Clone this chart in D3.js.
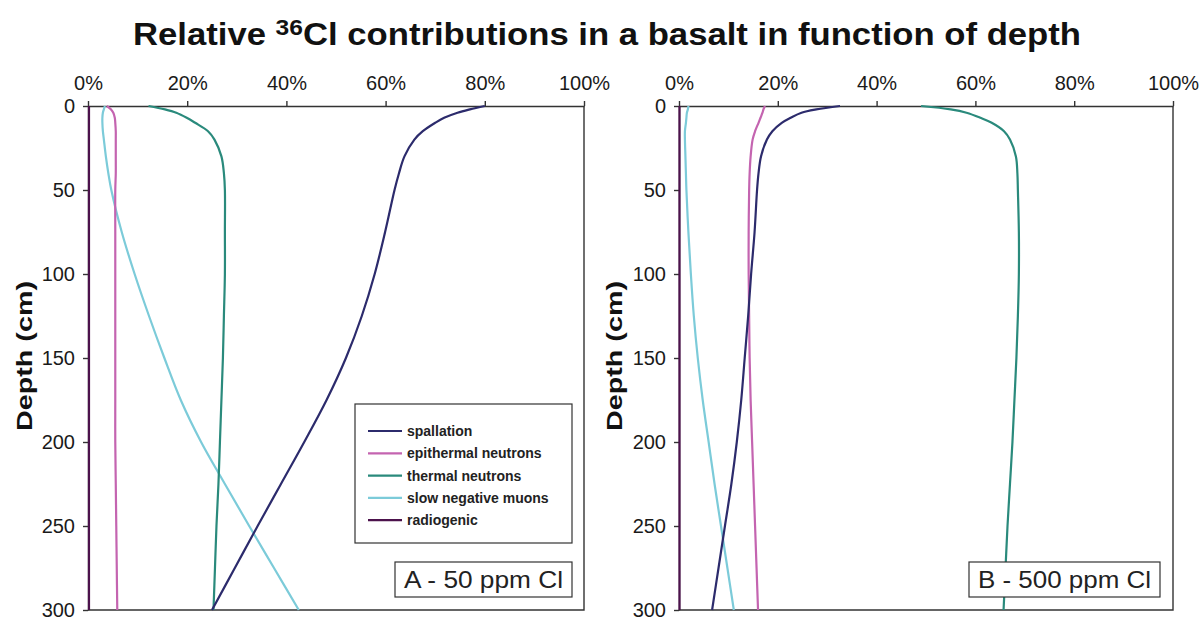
<!DOCTYPE html>
<html>
<head>
<meta charset="utf-8">
<script src="https://d3js.org/d3.v7.min.js"></script>
<style>
  body { margin: 0; background: #fff; }
  svg text { font-family: "Liberation Sans", Arial, sans-serif; }
</style>
</head>
<body>
<svg id="chart" width="1200" height="617"></svg>
<script>
// depth grid (cm), shared by every curve
var depths = [0, 2, 4, 7, 10, 15, 20, 30, 40, 50, 75, 100, 125, 150, 175, 200, 225, 250, 275, 300];

// panel A - 50 ppm Cl (percent of total 36Cl)
var spallationA = [80, 77, 74.5, 71.8, 70, 67.5, 65.8, 63.8, 62.7, 61.8, 59.9, 57.8, 55.2, 52.0, 48.1, 43.6, 38.9, 34.2, 29.6, 25.0];
var epithermalA = [3.8, 4.6, 5.1, 5.4, 5.5, 5.6, 5.6, 5.6, 5.6, 5.5, 5.5, 5.5, 5.5, 5.5, 5.5, 5.5, 5.6, 5.7, 5.8, 5.9];
var thermalA    = [12.2, 15.5, 17.8, 19.9, 21.6, 24.2, 25.5, 26.9, 27.4, 27.6, 27.6, 27.6, 27.4, 27.2, 26.9, 26.6, 26.3, 25.9, 25.6, 25.3];
var muonsA      = [3.4, 3.2, 3.0, 2.9, 2.9, 3.0, 3.2, 3.6, 4.1, 4.7, 6.8, 9.4, 12.3, 15.4, 18.7, 22.8, 27.6, 32.5, 37.5, 42.5];
var radiogenicA = [0.2, 0.2, 0.2, 0.2, 0.2, 0.2, 0.2, 0.2, 0.2, 0.2, 0.2, 0.2, 0.2, 0.2, 0.2, 0.2, 0.2, 0.2, 0.2, 0.2];

// panel B - 500 ppm Cl
var spallationB = [32.6, 27.8, 24.8, 22.6, 20.8, 18.9, 17.8, 16.6, 16.1, 15.8, 15.3, 14.6, 14.0, 13.3, 12.6, 11.7, 10.6, 9.3, 8.0, 6.7];
var epithermalB = [17.4, 17.1, 16.9, 16.5, 16.1, 15.4, 14.9, 14.5, 14.3, 14.2, 14.1, 14.1, 14.2, 14.3, 14.5, 14.8, 15.1, 15.4, 15.7, 16.0];
var thermalB    = [49, 55, 58.2, 61, 63.3, 65.8, 67, 68.2, 68.5, 68.6, 68.8, 68.8, 68.6, 68.3, 67.9, 67.5, 67, 66.5, 66.1, 65.7];
var muonsB      = [1.9, 1.8, 1.6, 1.5, 1.4, 1.2, 1.2, 1.3, 1.4, 1.5, 1.9, 2.4, 3.0, 3.8, 4.8, 6.0, 7.2, 8.5, 9.8, 11.1];
var radiogenicB = [0.1, 0.1, 0.1, 0.1, 0.1, 0.1, 0.1, 0.1, 0.1, 0.1, 0.1, 0.1, 0.1, 0.1, 0.1, 0.1, 0.1, 0.1, 0.1, 0.1];

var seriesNames = ["spallation", "epithermal neutrons", "thermal neutrons", "slow negative muons", "radiogenic"];
var seriesColors = ["#2c2b6c", "#c464b0", "#2a8a7c", "#7ccbd9", "#4c124c"];
var xTicks = [0, 0.2, 0.4, 0.6, 0.8, 1];
var yTicks = [0, 50, 100, 150, 200, 250, 300];
var panelLabels = ["A - 50 ppm Cl", "B - 500 ppm Cl"];

var svg = d3.select("#chart");

// title
var title = svg.append("text").attr("x", 607).attr("y", 45).attr("text-anchor", "middle")
  .style("font-size", "31px").style("font-weight", "bold").attr("fill", "#111")
  .attr("textLength", 948).attr("lengthAdjust", "spacingAndGlyphs");
title.append("tspan").text("Relative ");
title.append("tspan").text("36").style("font-size", "22px").attr("dy", -10);
title.append("tspan").text("Cl contributions in a basalt in function of depth").attr("dy", 10);

function drawPanel(left, right, data, label, withLegend, titleX, labelBox){
  var top = 106, bottom = 610;
  var x = d3.scaleLinear().domain([0, 1]).range([left, right]);
  var y = d3.scaleLinear().domain([0, 300]).range([top, bottom]);
  var g = svg.append("g");

  // frame (right and bottom sides)
  g.append("path").attr("d", "M" + right + "," + top + "V" + bottom + "H" + left)
    .attr("fill", "none").attr("stroke", "#333").attr("stroke-width", 1.4);

  var xAxis = g.append("g").attr("transform", "translate(0," + top + ")")
    .call(d3.axisTop(x).tickValues(xTicks).tickFormat(d3.format(".0%")).tickSizeInner(5).tickSizeOuter(0).tickPadding(11));
  var yAxis = g.append("g").attr("transform", "translate(" + left + ",0)")
    .call(d3.axisLeft(y).tickValues(yTicks).tickSizeInner(5).tickSizeOuter(0).tickPadding(8));
  [xAxis, yAxis].forEach(function(a){
    a.selectAll("path, line").attr("stroke", "#333").attr("stroke-width", 1.4);
    a.selectAll("text").style("font-size", "20px").attr("fill", "#1a1a1a").style("font-family", "'Liberation Sans', Arial, sans-serif");
  });

  g.append("text").attr("transform", "translate(" + titleX + ",356) rotate(-90)")
    .attr("text-anchor", "middle").attr("dy", "0.35em")
    .style("font-size", "22px").style("font-weight", "bold").attr("fill", "#111")
    .attr("textLength", 150).attr("lengthAdjust", "spacingAndGlyphs")
    .text("Depth (cm)");

  var line = d3.line().x(function(d){ return x(d[0] / 100); }).y(function(d){ return y(d[1]); })
    .curve(d3.curveCatmullRom.alpha(0.5));
  // draw order: radiogenic first, spallation last
  for (var s = data.length - 1; s >= 0; s--) {
    g.append("path").datum(data[s].map(function(v, i){ return [v, depths[i]]; }))
      .attr("d", line).attr("fill", "none").attr("stroke", seriesColors[s]).attr("stroke-width", 2.2);
  }

  // panel label
  g.append("rect").attr("x", labelBox[0]).attr("y", 562).attr("width", labelBox[1]).attr("height", 35)
    .attr("fill", "#fff").attr("stroke", "#333").attr("stroke-width", 1.2);
  g.append("text").attr("x", labelBox[0] + 9).attr("y", 588)
    .style("font-size", "24px").attr("fill", "#222")
    .attr("textLength", labelBox[1] - 18).attr("lengthAdjust", "spacingAndGlyphs")
    .text(label);

  if (withLegend) {
    var lg = g.append("g");
    lg.append("rect").attr("x", 355).attr("y", 404).attr("width", 217).attr("height", 139)
      .attr("fill", "#fff").attr("stroke", "#333").attr("stroke-width", 1.2);
    seriesNames.forEach(function(n, i){
      var yy = 431 + i * 22.3;
      lg.append("line").attr("x1", 368).attr("x2", 402).attr("y1", yy).attr("y2", yy)
        .attr("stroke", seriesColors[i]).attr("stroke-width", 2.2);
      lg.append("text").attr("x", 407).attr("y", yy).attr("dy", "0.35em")
        .style("font-size", "14px").style("font-weight", "bold").attr("fill", "#222").text(n);
    });
  }
}

drawPanel(88, 584, [spallationA, epithermalA, thermalA, muonsA, radiogenicA], panelLabels[0], true, 24, [395, 177]);
drawPanel(679, 1173, [spallationB, epithermalB, thermalB, muonsB, radiogenicB], panelLabels[1], false, 614, [969, 191]);
</script>
</body>
</html>
